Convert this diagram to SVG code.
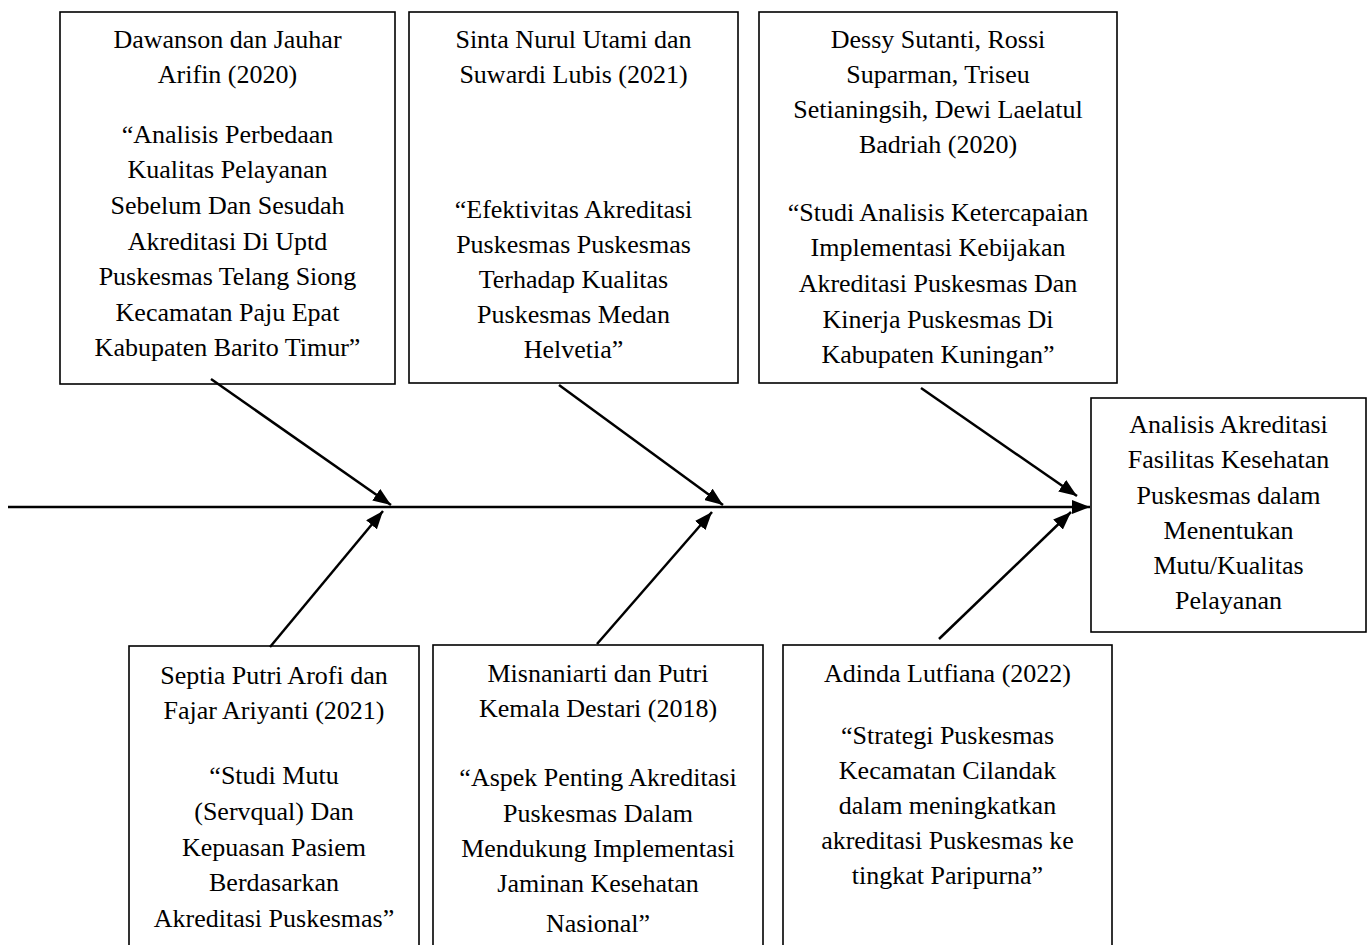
<svg xmlns="http://www.w3.org/2000/svg" width="1371" height="945" viewBox="0 0 1371 945">
<style>
rect{fill:#fff;stroke:#000;stroke-width:1.6}
text{font-family:"Liberation Serif","Times New Roman",serif;font-size:26px;text-anchor:middle;fill:#000}
.c{stroke:#000;stroke-width:2.5;fill:none}
</style>
<defs>
<marker id="a" viewBox="0 0 18 14" refX="18" refY="7" markerWidth="18" markerHeight="14" orient="auto" markerUnits="userSpaceOnUse">
<path d="M0,0 L18,7 L0,14 z" fill="#000"/>
</marker>
</defs>
<g id="top1">
<rect x="60" y="12" width="335" height="372"/>
<text x="227.5" y="48">Dawanson dan Jauhar</text>
<text x="227.5" y="83">Arifin (2020)</text>
<text x="227.5" y="143">“Analisis Perbedaan</text>
<text x="227.5" y="178">Kualitas Pelayanan</text>
<text x="227.5" y="214">Sebelum Dan Sesudah</text>
<text x="227.5" y="250">Akreditasi Di Uptd</text>
<text x="227.5" y="285">Puskesmas Telang Siong</text>
<text x="227.5" y="321">Kecamatan Paju Epat</text>
<text x="227.5" y="356">Kabupaten Barito Timur”</text>
</g>
<g id="top2">
<rect x="409" y="12" width="329" height="371"/>
<text x="573.5" y="48">Sinta Nurul Utami dan</text>
<text x="573.5" y="83">Suwardi Lubis (2021)</text>
<text x="573.5" y="218">“Efektivitas Akreditasi</text>
<text x="573.5" y="253">Puskesmas Puskesmas</text>
<text x="573.5" y="288">Terhadap Kualitas</text>
<text x="573.5" y="323">Puskesmas Medan</text>
<text x="573.5" y="358">Helvetia”</text>
</g>
<g id="top3">
<rect x="759" y="12" width="358" height="371"/>
<text x="938" y="48">Dessy Sutanti, Rossi</text>
<text x="938" y="83">Suparman, Triseu</text>
<text x="938" y="118">Setianingsih, Dewi Laelatul</text>
<text x="938" y="153">Badriah (2020)</text>
<text x="938" y="221">“Studi Analisis Ketercapaian</text>
<text x="938" y="256">Implementasi Kebijakan</text>
<text x="938" y="292">Akreditasi Puskesmas Dan</text>
<text x="938" y="328">Kinerja Puskesmas Di</text>
<text x="938" y="363">Kabupaten Kuningan”</text>
</g>
<g id="result">
<rect x="1091" y="398" width="275" height="234"/>
<text x="1228.5" y="433">Analisis Akreditasi</text>
<text x="1228.5" y="468">Fasilitas Kesehatan</text>
<text x="1228.5" y="504">Puskesmas dalam</text>
<text x="1228.5" y="539">Menentukan</text>
<text x="1228.5" y="574">Mutu/Kualitas</text>
<text x="1228.5" y="609">Pelayanan</text>
</g>
<g id="bottom1">
<rect x="129" y="646" width="290" height="310"/>
<text x="274" y="684">Septia Putri Arofi dan</text>
<text x="274" y="719">Fajar Ariyanti (2021)</text>
<text x="274" y="784">“Studi Mutu</text>
<text x="274" y="820">(Servqual) Dan</text>
<text x="274" y="856">Kepuasan Pasiem</text>
<text x="274" y="891">Berdasarkan</text>
<text x="274" y="927">Akreditasi Puskesmas”</text>
</g>
<g id="bottom2">
<rect x="433" y="645" width="330" height="310"/>
<text x="598" y="682">Misnaniarti dan Putri</text>
<text x="598" y="717">Kemala Destari (2018)</text>
<text x="598" y="786">“Aspek Penting Akreditasi</text>
<text x="598" y="822">Puskesmas Dalam</text>
<text x="598" y="857">Mendukung Implementasi</text>
<text x="598" y="892">Jaminan Kesehatan</text>
<text x="598" y="932">Nasional”</text>
</g>
<g id="bottom3">
<rect x="783" y="645" width="329" height="310"/>
<text x="947.5" y="682">Adinda Lutfiana (2022)</text>
<text x="947.5" y="744">“Strategi Puskesmas</text>
<text x="947.5" y="779">Kecamatan Cilandak</text>
<text x="947.5" y="814">dalam meningkatkan</text>
<text x="947.5" y="849">akreditasi Puskesmas ke</text>
<text x="947.5" y="884">tingkat Paripurna”</text>
</g>
<g id="connectors">
<line class="c" x1="8" y1="507" x2="1090" y2="507" marker-end="url(#a)"/>
<line class="c" x1="211" y1="379" x2="391" y2="505" marker-end="url(#a)"/>
<line class="c" x1="270" y1="647" x2="383" y2="511" marker-end="url(#a)"/>
<line class="c" x1="559" y1="385" x2="723" y2="505" marker-end="url(#a)"/>
<line class="c" x1="597" y1="644" x2="712" y2="512" marker-end="url(#a)"/>
<line class="c" x1="921" y1="388" x2="1077" y2="496" marker-end="url(#a)"/>
<line class="c" x1="939" y1="639" x2="1071" y2="512" marker-end="url(#a)"/>
</g>
</svg>
